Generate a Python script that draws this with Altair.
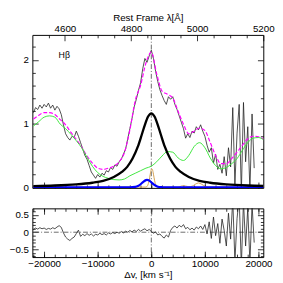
import altair as alt
import pandas as pd

C_KMS = 299792.458
LAM0 = 4861.33

# ---------------- data ----------------
OBS_V = list(range(-22000, 19201, 400))
OBS_FLUX = [1.17, 1.25, 1.22, 1.29, 1.24, 1.30, 1.26, 1.32, 1.24, 1.29, 1.21, 1.27, 1.23,
            1.14, 0.98, 0.84, 0.78, 0.74, 0.80, 0.78, 0.88, 0.80, 0.70,
            0.60, 0.50, 0.44, 0.34, 0.24, 0.19, 0.14, 0.20, 0.16, 0.22,
            0.19, 0.26, 0.24, 0.31, 0.28, 0.35, 0.33, 0.40, 0.44, 0.52,
            0.60, 0.76, 0.92, 1.08, 1.26, 1.38, 1.52, 1.64, 1.86, 2.02,
            1.96, 2.06, 2.15, 2.02, 1.82, 1.66, 1.53, 1.44, 1.36, 1.30,
            1.42, 1.38, 1.42, 1.30, 1.22, 1.12, 1.02, 0.92, 0.77, 0.84,
            0.78, 0.88, 0.85, 0.95, 0.90, 0.98, 0.88, 0.80, 0.66, 0.55,
            0.62, 0.38, 0.52, 0.28, 0.36, 0.22, 0.48, 0.18, 0.62, 0.32,
            1.25, 0.05, 0.85, 1.30, -0.10, 1.33, 0.40, 0.95, -0.05, 1.15, 0.30]
RESID = [0.08, 0.12, 0.09, 0.13, 0.10, 0.12, 0.08, 0.11, 0.09, 0.13, 0.10, 0.15, 0.19,
         0.14, -0.02, -0.14, -0.20, -0.24, -0.18, -0.14, -0.04, 0.06, -0.12,
         -0.06, -0.10, -0.04, -0.09, -0.05, -0.11, -0.06, -0.08, -0.03, -0.07,
         -0.04, -0.08, -0.02, -0.05, -0.01, -0.04, 0.00, -0.03, 0.02, -0.02,
         0.03, 0.00, 0.05, 0.01, 0.06, 0.02, 0.08, 0.03, 0.07, 0.10,
         0.04, 0.08, 0.02, -0.03, 0.01, -0.08, -0.05, -0.12, -0.17, -0.08,
         -0.14, 0.05, 0.14, 0.18, 0.12, 0.20, 0.15, 0.22, 0.10, 0.14,
         0.07, 0.12, 0.06, 0.15, 0.10, 0.18, 0.08, 0.22, -0.05, 0.30,
         -0.18, 0.44, -0.10, 0.25, -0.32, 0.38, 0.05, -0.40, 0.55, -0.20,
         0.95, -0.85, 0.40, 1.00, -1.00, 0.90, -0.40, 0.70, -0.90, 0.80, -0.30]

MOD_V = list(range(-22000, 21001, 1000))
MODEL = [1.07, 1.13, 1.17, 1.17, 1.14, 1.06, 0.98, 0.86, 0.75, 0.63,
         0.49, 0.38, 0.30, 0.28, 0.30, 0.33, 0.40, 0.55, 0.90, 1.36,
         1.60, 1.95, 2.12, 1.78, 1.51, 1.46, 1.40, 1.19, 0.99, 0.84,
         0.88, 0.93, 0.89, 0.70, 0.50, 0.37, 0.37, 0.45, 0.55, 0.66,
         0.76, 0.80, 0.79, 0.76]
FEII = [0.96, 1.03, 1.10, 1.12, 1.10, 0.99, 0.92, 0.83, 0.73, 0.62,
        0.47, 0.33, 0.23, 0.17, 0.14, 0.12, 0.115, 0.13, 0.18, 0.22,
        0.26, 0.30, 0.33, 0.40, 0.49, 0.56, 0.55, 0.46, 0.42, 0.50,
        0.64, 0.70, 0.62, 0.46, 0.34, 0.29, 0.31, 0.37, 0.45, 0.58,
        0.70, 0.77, 0.78, 0.74]

LOR_V = [-22000, -18000, -14000, -11000, -9000, -7000, -5500, -4500, -3500, -2500,
         -1800, -1200, -600, 0, 600, 1200, 1800, 2500, 3500, 4500, 5500, 7000,
         9000, 11000, 14000, 18000, 21000]
LOR_F = [0.019, 0.027, 0.045, 0.071, 0.10, 0.16, 0.24, 0.32, 0.45, 0.64,
         0.82, 0.98, 1.11, 1.16, 1.11, 0.98, 0.82, 0.64, 0.45, 0.32, 0.24, 0.16,
         0.10, 0.071, 0.045, 0.027, 0.020]

BLUE_V = [-22000, -4000, -3000, -2500, -2000, -1500, -1000, -800, -500, 0, 500, 1000,
          1500, 2000, 2500, 21000]
BLUE_F = [0, 0, 0.006, 0.019, 0.047, 0.085, 0.112, 0.115, 0.109, 0.078, 0.041, 0.016,
          0.004, 0.001, 0, 0]

TAN_V = [-22000, -1000, -700, -400, -200, 0, 100, 200, 400, 600, 900, 1200, 5000, 5600,
         6000, 6400, 7000, 7600, 8200, 8800, 9400, 10000, 10600, 21000]
TAN_F = [0, 0.003, 0.025, 0.11, 0.205, 0.279, 0.29, 0.279, 0.205, 0.11, 0.025, 0.003,
         0.002, 0.019, 0.023, 0.019, 0.010, 0.016, 0.047, 0.068, 0.047, 0.016, 0.003, 0]

LABEL_V = [-17300]
LABEL_F = [2.07]
LABEL_T = ["Hβ"]

X_DOMAIN = [-22200, 20900]
Y_TOP = [-0.01, 2.39]
Y_BOT = [-0.72, 0.69]

X_MAJOR = [-20000, -10000, 0, 10000, 20000]
X_MINOR = list(range(-22000, 20001, 2000))
LAM_MAJOR = [4600, 4800, 5000, 5200]
LAM_MINOR = [4550, 4650, 4700, 4750, 4850, 4900, 4950, 5050, 5100, 5150]
Y_TOP_MAJOR = [0, 1, 2]
Y_TOP_MINOR = [0.2, 0.4, 0.6, 0.8, 1.2, 1.4, 1.6, 1.8, 2.2]
Y_BOT_MAJOR = [-0.5, 0, 0.5]
Y_BOT_MINOR = [-0.7, -0.6, -0.4, -0.3, -0.2, -0.1, 0.1, 0.2, 0.3, 0.4, 0.6]

LAM_MAJOR_V = [C_KMS * (l - LAM0) / LAM0 for l in LAM_MAJOR]
LAM_MINOR_V = [C_KMS * (l - LAM0) / LAM0 for l in LAM_MINOR]

FONT = "Liberation Sans"
MAJ, MIN = 6, 3
W = 237


def ax(orient, values, size, **kw):
    opts = dict(orient=orient, values=values, tickSize=size, offset=-size,
                domain=False, grid=False, ticks=True, tickColor="black", tickWidth=0.8,
                titleFontWeight="normal")
    opts.update(kw)
    if "labels" not in kw:
        opts["labels"] = False
    if "title" not in kw:
        opts["title"] = None
    return alt.Axis(**opts)


def X(axis, field="v"):
    return alt.X(f"{field}:Q", scale=alt.Scale(domain=X_DOMAIN, nice=False, zero=False), axis=axis)


def Y(axis, dom, field="f"):
    return alt.Y(f"{field}:Q", scale=alt.Scale(domain=dom, nice=False, zero=False), axis=axis)


obs_df = pd.DataFrame({"v": OBS_V, "f": OBS_FLUX})
res_df = pd.DataFrame({"v": OBS_V, "f": RESID})
mod_df = pd.DataFrame({"v": MOD_V, "f": MODEL})
fe_df = pd.DataFrame({"v": MOD_V, "f": FEII})
lor_df = pd.DataFrame({"v": LOR_V, "f": LOR_F})
blue_df = pd.DataFrame({"v": BLUE_V, "f": BLUE_F})
tan_df = pd.DataFrame({"v": TAN_V, "f": TAN_F})
lab_df = pd.DataFrame({"v": LABEL_V, "f": LABEL_F, "t": LABEL_T})
zero_df = pd.DataFrame({"v": [0], "f": [0]})

DASHDOT = [5, 2, 1, 2]

# ---------------- top panel ----------------
t_vline = alt.Chart(zero_df).mark_rule(color="#444", strokeWidth=0.8, strokeDash=DASHDOT).encode(
    x=X(None))
t_obs = alt.Chart(obs_df).mark_line(color="#222", strokeWidth=0.8, clip=True).encode(
    x=X(ax("bottom", X_MAJOR, MAJ)),
    y=Y(ax("left", Y_TOP_MAJOR, MAJ, labels=True, format="d", labelPadding=4), Y_TOP))
t_mod = alt.Chart(mod_df).mark_line(color="#ff00ff", strokeWidth=1.2, strokeDash=[4, 2],
                                    interpolate="monotone", clip=True).encode(
    x=X(ax("bottom", X_MINOR, MIN)),
    y=Y(ax("left", Y_TOP_MINOR, MIN), Y_TOP))
t_fe = alt.Chart(fe_df).mark_line(color="#3ee63e", strokeWidth=1.0, interpolate="monotone",
                                  clip=True).encode(
    x=X(ax("top", LAM_MAJOR_V, MAJ, labels=True,
           labelExpr="round(4861.33*(1+datum.value/299792.458))",
           labelPadding=2, labelFlush=False, labelOverlap=False,
           title="Rest Frame λ[Å]", titlePadding=1)),
    y=Y(ax("right", Y_TOP_MAJOR, MAJ), Y_TOP))
t_tan = alt.Chart(tan_df).mark_line(color="#d4a050", strokeWidth=1.0, interpolate="monotone",
                                    clip=True).encode(
    x=X(ax("top", LAM_MINOR_V, MIN)),
    y=Y(ax("right", Y_TOP_MINOR, MIN), Y_TOP))
t_blue = alt.Chart(blue_df).mark_line(color="#0000ff", strokeWidth=2.2, interpolate="monotone",
                                      clip=True).encode(
    x=X(None), y=Y(None, Y_TOP))
t_lor = alt.Chart(lor_df).mark_line(color="black", strokeWidth=2.4, interpolate="monotone",
                                    clip=True).encode(
    x=X(None), y=Y(None, Y_TOP))
t_lab = alt.Chart(lab_df).mark_text(align="left", baseline="middle", fontSize=9, font=FONT,
                                    color="black").encode(
    x=X(None), y=Y(None, Y_TOP), text="t:N")

top = alt.layer(t_vline, t_obs, t_mod, t_fe, t_tan, t_blue, t_lor, t_lab).resolve_axis(
    x="independent", y="independent").properties(width=W, height=157)

# ---------------- bottom panel ----------------
b_hline = alt.Chart(zero_df).mark_rule(color="#444", strokeWidth=0.8, strokeDash=DASHDOT).encode(
    y=Y(ax("left", Y_BOT_MINOR, MIN), Y_BOT))
b_vline = alt.Chart(zero_df).mark_rule(color="#444", strokeWidth=0.8, strokeDash=DASHDOT).encode(
    x=X(ax("top", X_MINOR, MIN)))
b_res = alt.Chart(res_df).mark_line(color="#222", strokeWidth=0.8, clip=True).encode(
    x=X(ax("bottom", X_MAJOR, MAJ, labels=True, format="d", labelPadding=2,
           labelFlush=False, labelOverlap=False, title="Δv, [km s⁻¹]", titlePadding=1)),
    y=Y(ax("left", Y_BOT_MAJOR, MAJ, labels=True, format=".1~f", labelPadding=4), Y_BOT))
b_ax1 = alt.Chart(res_df).mark_line(opacity=0).encode(
    x=X(ax("bottom", X_MINOR, MIN)),
    y=Y(ax("right", Y_BOT_MAJOR, MAJ), Y_BOT))
b_ax2 = alt.Chart(res_df).mark_line(opacity=0).encode(
    x=X(ax("top", X_MAJOR, MAJ)),
    y=Y(ax("right", Y_BOT_MINOR, MIN), Y_BOT))

bottom = alt.layer(b_hline, b_vline, b_res, b_ax1, b_ax2).resolve_axis(
    x="independent", y="independent").properties(width=W, height=50)

chart = alt.vconcat(top, bottom, spacing=4).properties(
    padding={"left": 0, "right": 0, "top": 0, "bottom": 0}
).configure_view(stroke="black", strokeWidth=1).configure_axis(
    labelFont=FONT, titleFont=FONT, labelFontSize=10, titleFontSize=10,
    titleFontWeight="normal", labelColor="black", titleColor="black")

chart.save("out.html", embed_options={"renderer": "svg", "actions": False})
